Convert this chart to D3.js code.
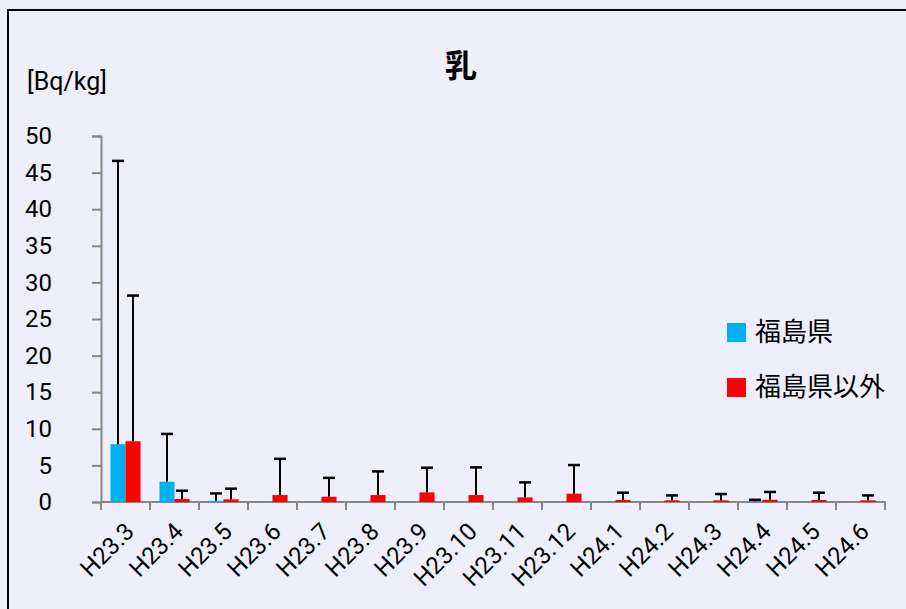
<!DOCTYPE html>
<html lang="ja">
<head>
<meta charset="UTF-8">
<title>乳</title>
<script src="https://cdn.jsdelivr.net/npm/d3@7/dist/d3.min.js"></script>
<style>
  html, body { margin: 0; padding: 0; background: #eeeefc; }
  svg { display: block; }
  text { font-family: Roboto, "Noto Sans CJK JP", sans-serif; fill: #000; }
</style>
</head>
<body>
<script>
    var width = 906
    var height = 609

    // 月別（平成）
    var months = ['H23.3', 'H23.4', 'H23.5', 'H23.6', 'H23.7', 'H23.8', 'H23.9', 'H23.10',
        'H23.11', 'H23.12', 'H24.1', 'H24.2', 'H24.3', 'H24.4', 'H24.5', 'H24.6']
    var seriesNames = ['福島県', '福島県以外']
    // 平均値 [Bq/kg]（null = データなし）
    var fukushima = [7.9, 2.77, 0.15, null, null, null, null, null,
        null, null, null, null, null, 0.1, null, null]
    var other = [8.3, 0.41, 0.36, 0.95, 0.72, 0.95, 1.31, 0.95,
        0.63, 1.13, 0.27, 0.22, 0.22, 0.3, 0.27, 0.22]
    // エラーバー上端
    var fukushimaTop = [46.6, 9.3, 1.17, null, null, null, null, null,
        null, null, null, null, null, 0.3, null, null]
    var otherTop = [28.2, 1.54, 1.82, 5.9, 3.3, 4.18, 4.68, 4.73,
        2.68, 5.05, 1.27, 0.9, 1.09, 1.37, 1.27, 0.9]
    var yTicks = [0, 5, 10, 15, 20, 25, 30, 35, 40, 45, 50]

    var colors = ['#00b0f0', '#ff0000']

    var svg = d3.select('body')
        .append('svg')
        .attr('width', width)
        .attr('height', height)

    svg.append('rect')
        .attr('width', width)
        .attr('height', height)
        .attr('fill', '#eeeefc')

    // 枠線
    svg.append('line')
        .attr('x1', 7).attr('x2', width).attr('y1', 10).attr('y2', 10)
        .attr('stroke', '#000').attr('stroke-width', 2)
    svg.append('line')
        .attr('x1', 8).attr('x2', 8).attr('y1', 10).attr('y2', height)
        .attr('stroke', '#000').attr('stroke-width', 2)

    var x = d3.scaleBand()
        .domain(months)
        .range([101, 885])
        .padding(0)

    var xSub = d3.scaleBand()
        .domain([0, 1])
        .range([0, x.bandwidth()])
        .paddingInner(0)
        .paddingOuter(0.63)

    var y = d3.scaleLinear()
        .domain([0, 50])
        .range([502, 136])

    // タイトル・単位
    svg.append('text')
        .attr('x', 461)
        .attr('y', 77)
        .attr('text-anchor', 'middle')
        .style('font-family', '"Noto Sans CJK JP"')
        .style('font-weight', 'bold')
        .style('font-size', '32px')
        .text('乳')

    svg.append('text')
        .attr('x', 27)
        .attr('y', 90)
        .style('font-size', '25px')
        .text('[Bq/kg]')

    // y軸
    var yAxis = svg.append('g')
        .attr('transform', 'translate(101,0)')
        .call(d3.axisLeft(y).tickValues(yTicks).tickSize(9).tickPadding(40))
    yAxis.select('.domain').attr('stroke', '#868686').attr('stroke-width', 2)
    yAxis.selectAll('.tick line').attr('stroke', '#868686').attr('stroke-width', 2)
    yAxis.selectAll('.tick text')
        .style('font-size', '24px')
        .style('font-family', 'Roboto')
        .attr('fill', '#000')

    // x軸（目盛りはカテゴリ境界）
    var xg = svg.append('g').attr('transform', 'translate(0,502)')
    xg.append('line')
        .attr('x1', x.range()[0] - 1).attr('x2', x.range()[1] + 1)
        .attr('stroke', '#868686').attr('stroke-width', 2)
    xg.selectAll('.xtick')
        .data(months.concat(['end']))
        .enter()
        .append('line')
        .attr('class', 'xtick')
        .attr('x1', function (d, i) { return x.range()[0] + i * x.step() })
        .attr('x2', function (d, i) { return x.range()[0] + i * x.step() })
        .attr('y1', 0).attr('y2', 8)
        .attr('stroke', '#868686').attr('stroke-width', 2)

    xg.selectAll('.xlabel')
        .data(months)
        .enter()
        .append('text')
        .attr('class', 'xlabel')
        .attr('transform', function (d) {
            return 'translate(' + (x(d) + x.bandwidth() / 2 + 10) + ',31) rotate(-45)'
        })
        .attr('text-anchor', 'end')
        .style('font-size', '24px')
        .text(function (d) { return d })

    // 棒とエラーバー
    var series = [
        { values: fukushima, tops: fukushimaTop },
        { values: other, tops: otherTop }
    ]

    series.forEach(function (s, si) {
        var pts = months.map(function (m, i) {
            return { m: m, v: s.values[i], t: s.tops[i] }
        }).filter(function (d) { return d.v != null })

        var g = svg.append('g')

        g.selectAll('rect')
            .data(pts)
            .enter()
            .append('rect')
            .attr('x', function (d) { return x(d.m) + xSub(si) })
            .attr('width', xSub.bandwidth())
            .attr('y', function (d) { return y(d.v) })
            .attr('height', function (d) { return y(0) - y(d.v) })
            .attr('fill', colors[si])

        var eb = g.selectAll('.err')
            .data(pts.filter(function (d) { return d.t != null }))
            .enter()
            .append('g')
            .attr('class', 'err')
            .attr('transform', function (d) {
                return 'translate(' + (x(d.m) + xSub(si) + xSub.bandwidth() / 2) + ',0)'
            })
        eb.append('line')
            .attr('y1', function (d) { return y(d.v) })
            .attr('y2', function (d) { return y(d.t) })
            .attr('stroke', '#000').attr('stroke-width', 2)
        eb.append('line')
            .attr('x1', -6).attr('x2', 6)
            .attr('y1', function (d) { return y(d.t) })
            .attr('y2', function (d) { return y(d.t) })
            .attr('stroke', '#000').attr('stroke-width', 2.5)
    })

    // 凡例
    var legend = svg.selectAll('.legend')
        .data(seriesNames)
        .enter()
        .append('g')
        .attr('class', 'legend')
        .attr('transform', function (d, i) { return 'translate(727,' + (323 + i * 55) + ')' })
    legend.append('rect')
        .attr('width', 19).attr('height', 19)
        .attr('fill', function (d, i) { return colors[i] })
    legend.append('text')
        .attr('x', 28)
        .attr('y', 18)
        .style('font-family', '"Noto Sans CJK JP"')
        .style('font-size', '26px')
        .text(function (d) { return d })
</script>
</body>
</html>
